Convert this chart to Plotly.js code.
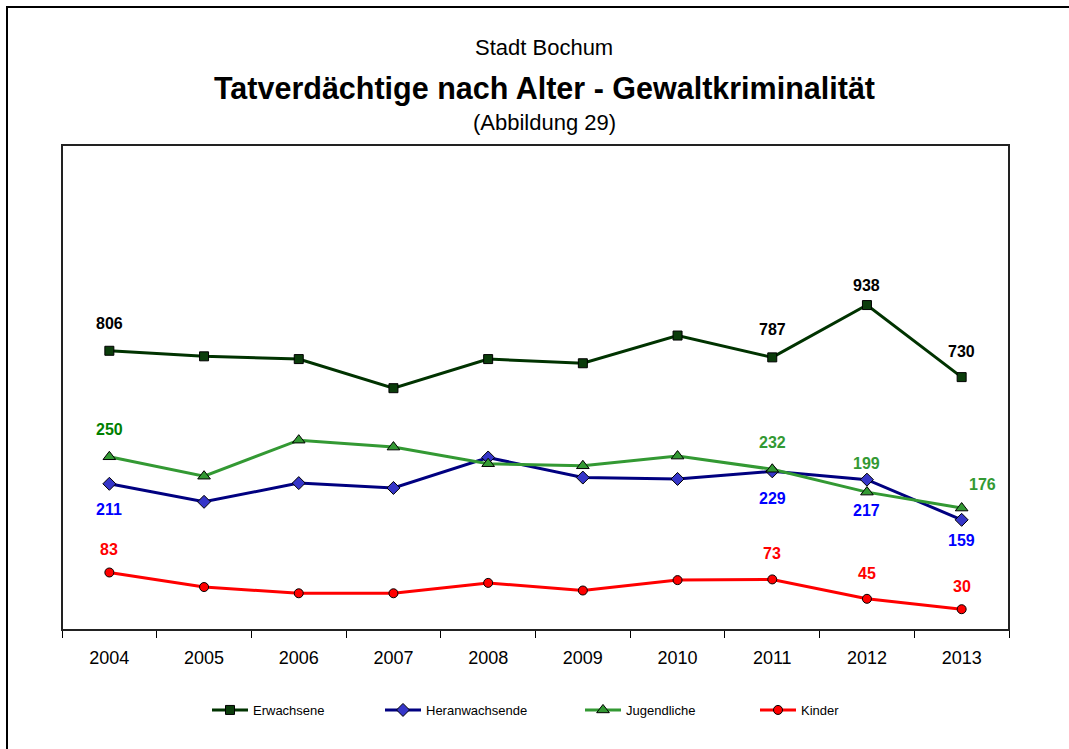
<!DOCTYPE html>
<html>
<head>
<meta charset="utf-8">
<script src="https://cdn.plot.ly/plotly-3.0.1.min.js"></script>
<style>html,body{margin:0;padding:0;background:#fff;}#chart{width:1069px;height:749px;}</style>
</head>
<body>
<div id="chart"></div>
<script>
// ---- data ----
const years = ['2004','2005','2006','2007','2008','2009','2010','2011','2012','2013'];
const erwachsene = [806, 790, 782, 698, 782, 770, 850, 787, 938, 730];
const heranwachsende = [211, 185, 212, 205, 249, 220, 218, 229, 217, 159];
const jugendliche = [250, 222, 274, 264, 240, 237, 251, 232, 199, 176];
const kinder = [83, 62, 53, 53, 68, 57, 72, 73, 45, 30];
const seriesNames = ['Erwachsene', 'Heranwachsende', 'Jugendliche', 'Kinder'];
const labelledIdx = [0, 7, 8, 9];

// ---- style ----
const FONT = 'Liberation Sans, Arial, sans-serif';
const L = 62, R = 1009, T = 145, B = 630, W = 1069, H = 749;
const px2x = p => (p - L) / (R - L);
const px2y = p => (B - p) / (B - T);

const styles = [
  {line:'#003300', fill:'#0b3d0b', sym:'square', size:9, yaxis:'y2', lab:'#000000',
   shifts:[[0,27],[0,28],[0,20],[0,26]]},
  {line:'#000080', fill:'#3636c8', sym:'diamond', size:10, yaxis:'y', lab:'#0000ff',
   shifts:[[0,-26],[0,-27],[0,-31],[0,-21]]},
  {line:'#339933', fill:'#339933', sym:'triangle-up', size:11, yaxis:'y', lab:'#339933',
   labFirst:'#008000', shifts:[[0,27],[0,27],[0,29],[21,24]]},
  {line:'#ff0000', fill:'#ff0000', sym:'circle', size:9, yaxis:'y', lab:'#ff0000',
   shifts:[[0,23],[0,26],[0,25],[0,23]]}
];
const values = [erwachsene, heranwachsende, jugendliche, kinder];
const legendX = [212, 385, 585, 760];

const traces = values.map((v, k) => ({
  type:'scatter', mode:'lines+markers', name:seriesNames[k],
  x:years, y:v, yaxis:styles[k].yaxis,
  legend: k === 0 ? 'legend' : 'legend' + (k + 1),
  line:{color:styles[k].line, width:3},
  marker:{symbol:styles[k].sym, size:styles[k].size, color:styles[k].fill,
          line:{color:'#000', width:1}},
  hoverinfo:'skip'
}));

const annotations = [];
values.forEach((v, k) => {
  labelledIdx.forEach((i, j) => {
    const s = styles[k];
    annotations.push({
      x:i, y:v[i], xref:'x', yref:s.yaxis,
      text:'<b>' + v[i] + '</b>', showarrow:false,
      xshift:s.shifts[j][0], yshift:s.shifts[j][1],
      font:{family:FONT, size:16, color:(j===0 && s.labFirst) ? s.labFirst : s.lab},
      xanchor:'center', yanchor:'middle'
    });
  });
});
annotations.push(
  {text:'Stadt Bochum', xref:'paper', yref:'paper', x:px2x(544), y:px2y(47), showarrow:false,
   xanchor:'center', yanchor:'middle', font:{family:FONT, size:22, color:'#000'}},
  {text:'<b>Tatverdächtige nach Alter - Gewaltkriminalität</b>', xref:'paper', yref:'paper', x:px2x(544), y:px2y(89),
   showarrow:false, xanchor:'center', yanchor:'middle', font:{family:FONT, size:30.5, color:'#000'}},
  {text:'(Abbildung 29)', xref:'paper', yref:'paper', x:px2x(544), y:px2y(123), showarrow:false,
   xanchor:'center', yanchor:'middle', font:{family:FONT, size:22, color:'#000'}}
);

const hiddenAxis = {showgrid:false, zeroline:false, showline:false, ticks:'',
  showticklabels:false, fixedrange:true};
const legendBase = {orientation:'h', yanchor:'middle', xanchor:'left', y:px2y(710),
  itemwidth:36,
  font:{family:FONT, size:13, color:'#000'}, bgcolor:'rgba(0,0,0,0)', borderwidth:0};
const layout = {
  width:W, height:H, margin:{l:L, r:W-R, t:T, b:H-B},
  paper_bgcolor:'#fff', plot_bgcolor:'#fff', showlegend:true,
  font:{family:FONT, color:'#000'},
  xaxis:{type:'category', range:[-0.5, 9.5], showgrid:false, zeroline:false,
    showline:false, ticks:'outside', tickson:'boundaries', ticklen:7, tickcolor:'#000', tickwidth:1,
    tickfont:{family:FONT, size:18, color:'#000'}, ticklabelstandoff:15},
  yaxis:Object.assign({range:[0,700]}, hiddenAxis),
  yaxis2:Object.assign({range:[0,1400], overlaying:'y', side:'right'}, hiddenAxis),
  annotations:annotations,
  shapes:[
    {type:'rect', xref:'paper', yref:'paper', x0:0, x1:1, y0:0, y1:1,
     line:{color:'#222', width:2}, layer:'above'},
    {type:'rect', xref:'paper', yref:'paper', x0:px2x(7), x1:px2x(1080), y0:px2y(7), y1:px2y(760),
     line:{color:'#000', width:2}, layer:'above'}
  ]
};
legendX.forEach((lx, k) => {
  const key = k === 0 ? 'legend' : 'legend' + (k + 1);
  layout[key] = Object.assign({}, legendBase, {x:px2x(lx - 5)});
});

Plotly.newPlot('chart', traces, layout, {displayModeBar:false, staticPlot:true});
</script>
</body>
</html>
